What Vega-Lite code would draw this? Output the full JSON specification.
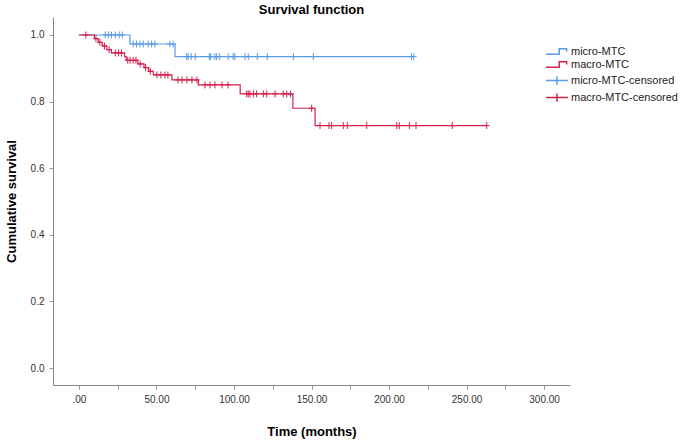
{
  "$schema": "https://vega.github.io/schema/vega-lite/v6.json",
  "width": 517,
  "height": 368,
  "autosize": {"type": "none"},
  "padding": {"left": 53, "top": 17, "right": 115, "bottom": 55},
  "background": "white",
  "config": {"view": {"stroke": null}, "font": "Liberation Sans"},
  "title": {"text": "Survival function", "fontSize": 13, "fontWeight": "bold", "color": "#000000", "offset": 0, "anchor": "middle"},
  "datasets": {
    "curves": [
      {"group": "micro-MTC", "time": 0, "survival": 1.0},
      {"group": "micro-MTC", "time": 32.9, "survival": 0.973},
      {"group": "micro-MTC", "time": 62, "survival": 0.935},
      {"group": "micro-MTC", "time": 216, "survival": 0.935},
      {"group": "macro-MTC", "time": 0, "survival": 1.0},
      {"group": "macro-MTC", "time": 10, "survival": 0.989},
      {"group": "macro-MTC", "time": 12.5, "survival": 0.978},
      {"group": "macro-MTC", "time": 15, "survival": 0.967},
      {"group": "macro-MTC", "time": 18, "survival": 0.956},
      {"group": "macro-MTC", "time": 21, "survival": 0.946},
      {"group": "macro-MTC", "time": 29.5, "survival": 0.935},
      {"group": "macro-MTC", "time": 30.5, "survival": 0.924},
      {"group": "macro-MTC", "time": 38, "survival": 0.913},
      {"group": "macro-MTC", "time": 42, "survival": 0.902},
      {"group": "macro-MTC", "time": 45, "survival": 0.891},
      {"group": "macro-MTC", "time": 48, "survival": 0.88},
      {"group": "macro-MTC", "time": 60, "survival": 0.865},
      {"group": "macro-MTC", "time": 77, "survival": 0.85},
      {"group": "macro-MTC", "time": 104, "survival": 0.823},
      {"group": "macro-MTC", "time": 138, "survival": 0.78},
      {"group": "macro-MTC", "time": 152.3, "survival": 0.728},
      {"group": "macro-MTC", "time": 263, "survival": 0.728}
    ],
    "censored": [
      {"group": "micro-MTC-censored", "time": 17, "survival": 1.0},
      {"group": "micro-MTC-censored", "time": 19, "survival": 1.0},
      {"group": "micro-MTC-censored", "time": 21, "survival": 1.0},
      {"group": "micro-MTC-censored", "time": 23.5, "survival": 1.0},
      {"group": "micro-MTC-censored", "time": 26, "survival": 1.0},
      {"group": "micro-MTC-censored", "time": 28, "survival": 1.0},
      {"group": "micro-MTC-censored", "time": 35, "survival": 0.973},
      {"group": "micro-MTC-censored", "time": 37.2, "survival": 0.973},
      {"group": "micro-MTC-censored", "time": 39.4, "survival": 0.973},
      {"group": "micro-MTC-censored", "time": 41.5, "survival": 0.973},
      {"group": "micro-MTC-censored", "time": 44.7, "survival": 0.973},
      {"group": "micro-MTC-censored", "time": 46.9, "survival": 0.973},
      {"group": "micro-MTC-censored", "time": 49, "survival": 0.973},
      {"group": "micro-MTC-censored", "time": 58.7, "survival": 0.973},
      {"group": "micro-MTC-censored", "time": 60.8, "survival": 0.973},
      {"group": "micro-MTC-censored", "time": 69.5, "survival": 0.935},
      {"group": "micro-MTC-censored", "time": 70.5, "survival": 0.935},
      {"group": "micro-MTC-censored", "time": 72.5, "survival": 0.935},
      {"group": "micro-MTC-censored", "time": 75, "survival": 0.935},
      {"group": "micro-MTC-censored", "time": 84.1, "survival": 0.935},
      {"group": "micro-MTC-censored", "time": 85, "survival": 0.935},
      {"group": "micro-MTC-censored", "time": 87.7, "survival": 0.935},
      {"group": "micro-MTC-censored", "time": 88.8, "survival": 0.935},
      {"group": "micro-MTC-censored", "time": 90.5, "survival": 0.935},
      {"group": "micro-MTC-censored", "time": 96.3, "survival": 0.935},
      {"group": "micro-MTC-censored", "time": 99.5, "survival": 0.935},
      {"group": "micro-MTC-censored", "time": 100.6, "survival": 0.935},
      {"group": "micro-MTC-censored", "time": 107.1, "survival": 0.935},
      {"group": "micro-MTC-censored", "time": 109.2, "survival": 0.935},
      {"group": "micro-MTC-censored", "time": 115, "survival": 0.935},
      {"group": "micro-MTC-censored", "time": 121.5, "survival": 0.935},
      {"group": "micro-MTC-censored", "time": 138.3, "survival": 0.935},
      {"group": "micro-MTC-censored", "time": 151.2, "survival": 0.935},
      {"group": "micro-MTC-censored", "time": 214.5, "survival": 0.935},
      {"group": "micro-MTC-censored", "time": 216, "survival": 0.935},
      {"group": "macro-MTC-censored", "time": 4.5, "survival": 1.0},
      {"group": "macro-MTC-censored", "time": 11, "survival": 0.989},
      {"group": "macro-MTC-censored", "time": 13.5, "survival": 0.978},
      {"group": "macro-MTC-censored", "time": 16.5, "survival": 0.967},
      {"group": "macro-MTC-censored", "time": 19.5, "survival": 0.956},
      {"group": "macro-MTC-censored", "time": 23.5, "survival": 0.946},
      {"group": "macro-MTC-censored", "time": 25.5, "survival": 0.946},
      {"group": "macro-MTC-censored", "time": 27.5, "survival": 0.946},
      {"group": "macro-MTC-censored", "time": 31.5, "survival": 0.924},
      {"group": "macro-MTC-censored", "time": 33, "survival": 0.924},
      {"group": "macro-MTC-censored", "time": 35, "survival": 0.924},
      {"group": "macro-MTC-censored", "time": 36.8, "survival": 0.924},
      {"group": "macro-MTC-censored", "time": 39.5, "survival": 0.913},
      {"group": "macro-MTC-censored", "time": 43, "survival": 0.902},
      {"group": "macro-MTC-censored", "time": 46, "survival": 0.891},
      {"group": "macro-MTC-censored", "time": 50.3, "survival": 0.88},
      {"group": "macro-MTC-censored", "time": 52.9, "survival": 0.88},
      {"group": "macro-MTC-censored", "time": 55.5, "survival": 0.88},
      {"group": "macro-MTC-censored", "time": 57.4, "survival": 0.88},
      {"group": "macro-MTC-censored", "time": 63.9, "survival": 0.865},
      {"group": "macro-MTC-censored", "time": 66.5, "survival": 0.865},
      {"group": "macro-MTC-censored", "time": 69.7, "survival": 0.865},
      {"group": "macro-MTC-censored", "time": 72.9, "survival": 0.865},
      {"group": "macro-MTC-censored", "time": 76.1, "survival": 0.865},
      {"group": "macro-MTC-censored", "time": 81.3, "survival": 0.85},
      {"group": "macro-MTC-censored", "time": 84.5, "survival": 0.85},
      {"group": "macro-MTC-censored", "time": 87.7, "survival": 0.85},
      {"group": "macro-MTC-censored", "time": 92.3, "survival": 0.85},
      {"group": "macro-MTC-censored", "time": 96.1, "survival": 0.85},
      {"group": "macro-MTC-censored", "time": 108.2, "survival": 0.823},
      {"group": "macro-MTC-censored", "time": 109.2, "survival": 0.823},
      {"group": "macro-MTC-censored", "time": 110.3, "survival": 0.823},
      {"group": "macro-MTC-censored", "time": 112.5, "survival": 0.823},
      {"group": "macro-MTC-censored", "time": 114.6, "survival": 0.823},
      {"group": "macro-MTC-censored", "time": 118.9, "survival": 0.823},
      {"group": "macro-MTC-censored", "time": 121.1, "survival": 0.823},
      {"group": "macro-MTC-censored", "time": 126.5, "survival": 0.823},
      {"group": "macro-MTC-censored", "time": 131.8, "survival": 0.823},
      {"group": "macro-MTC-censored", "time": 134, "survival": 0.823},
      {"group": "macro-MTC-censored", "time": 136.5, "survival": 0.823},
      {"group": "macro-MTC-censored", "time": 150.1, "survival": 0.78},
      {"group": "macro-MTC-censored", "time": 155.5, "survival": 0.728},
      {"group": "macro-MTC-censored", "time": 161.3, "survival": 0.728},
      {"group": "macro-MTC-censored", "time": 163, "survival": 0.728},
      {"group": "macro-MTC-censored", "time": 170.5, "survival": 0.728},
      {"group": "macro-MTC-censored", "time": 173.1, "survival": 0.728},
      {"group": "macro-MTC-censored", "time": 185.6, "survival": 0.728},
      {"group": "macro-MTC-censored", "time": 205, "survival": 0.728},
      {"group": "macro-MTC-censored", "time": 206.6, "survival": 0.728},
      {"group": "macro-MTC-censored", "time": 213.1, "survival": 0.728},
      {"group": "macro-MTC-censored", "time": 217.4, "survival": 0.728},
      {"group": "macro-MTC-censored", "time": 240.8, "survival": 0.728},
      {"group": "macro-MTC-censored", "time": 263, "survival": 0.728}
    ]
  },
  "layer": [
    {
      "data": {"name": "curves"},
      "mark": {"type": "line", "interpolate": "step-after", "strokeWidth": 1.2},
      "encoding": {
        "x": {
          "field": "time", "type": "quantitative",
          "scale": {"domain": [-16.7, 316.7], "nice": false, "zero": false},
          "axis": {
            "values": [0, 25, 50, 75, 100, 125, 150, 175, 200, 225, 250, 275, 300],
            "labelExpr": "datum.value % 50 === 0 ? (datum.value === 0 ? '.00' : format(datum.value, '.2f')) : ''",
            "title": "Time (months)", "titleFontSize": 13, "titleFontWeight": "bold", "titleColor": "#000000", "titlePadding": 21,
            "labelFontSize": 10, "labelColor": "#333333", "labelPadding": 5,
            "domainColor": "#888888", "tickColor": "#999999", "tickSize": 4, "grid": false
          }
        },
        "y": {
          "field": "survival", "type": "quantitative",
          "scale": {"domain": [-0.051, 1.054], "nice": false, "zero": false},
          "axis": {
            "values": [0, 0.1, 0.2, 0.3, 0.4, 0.5, 0.6, 0.7, 0.8, 0.9, 1.0],
            "labelExpr": "round(datum.value * 10) % 2 === 0 ? format(datum.value, '.1f') : ''",
            "title": "Cumulative survival", "titleFontSize": 13, "titleFontWeight": "bold", "titleColor": "#000000", "titlePadding": 12,
            "labelFontSize": 10, "labelColor": "#333333", "labelPadding": 5,
            "domainColor": "#888888", "tickColor": "#999999", "tickSize": 4, "grid": false
          }
        },
        "color": {
          "field": "group", "type": "nominal",
          "scale": {"domain": ["micro-MTC", "macro-MTC"], "range": ["#5A9BE6", "#D61F4B"]},
          "legend": {
            "orient": "none", "legendX": 492, "legendY": 28, "title": null,
            "symbolType": "M-1,0.5L1.4,0.5L1.4,-0.5L2.75,-0.5L2.75,0",
            "symbolSize": 121, "symbolStrokeWidth": 1.5, "symbolFillColor": "transparent",
            "labelFontSize": 11, "labelColor": "#222222", "labelOffset": 13, "rowPadding": 0
          }
        }
      }
    },
    {
      "data": {"name": "censored"},
      "mark": {"type": "point", "shape": "M0,-1L0,1M-0.8,0L0.8,0", "size": 49, "strokeWidth": 1, "filled": false, "opacity": 1},
      "encoding": {
        "x": {"field": "time", "type": "quantitative"},
        "y": {"field": "survival", "type": "quantitative"},
        "stroke": {
          "field": "group", "type": "nominal",
          "scale": {"domain": ["micro-MTC-censored", "macro-MTC-censored"], "range": ["#5A9BE6", "#D61F4B"]},
          "legend": {
            "orient": "none", "legendX": 492, "legendY": 57, "title": null,
            "symbolType": "M-1,0L3,0M1,-0.75L1,0.75",
            "symbolSize": 121, "symbolStrokeWidth": 1.5, "symbolFillColor": "transparent",
            "labelFontSize": 11, "labelColor": "#222222", "labelOffset": 13, "rowPadding": 2
          }
        }
      }
    }
  ]
}
